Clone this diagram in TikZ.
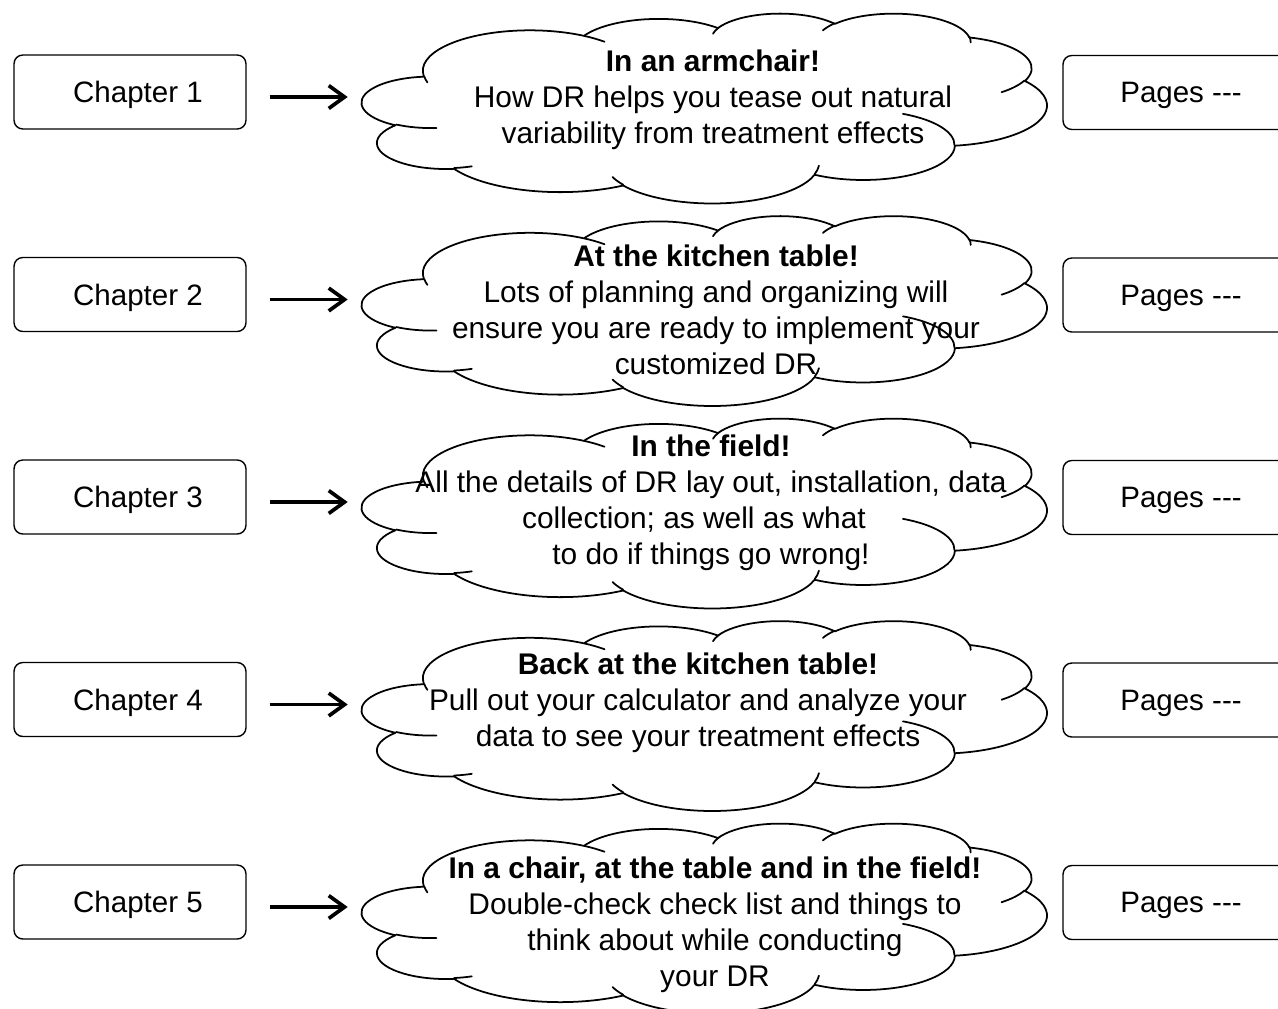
\documentclass[tikz,border=0pt]{standalone}
\usepackage{fontspec}
\setmainfont{Liberation Sans}
\usetikzlibrary{arrows.meta}
\tikzset{
  carc/.code n args={4}{%
    \pgfmathsetmacro\cA{atan2((#1)*sin(#3),(#2)*cos(#3))}%
    \pgfmathsetmacro\cB{atan2((#1)*sin((#3)+(#4)),(#2)*cos((#3)+(#4)))}%
    \pgfmathsetmacro\cB{(\cA)+mod((\cB)-(\cA)+720,360)}%
    \edef\cTmp{\noexpand\tikzset{x radius=#1,y radius=#2,start angle=\cA,end angle=\cB}}%
    \cTmp},
  cloudline/.style={line width=1pt, line join=round, line cap=round},
  chbox/.style={draw, line width=0.8pt, rounded corners=5pt, minimum width=4.64cm,
    minimum height=1.48cm, inner sep=0pt, text depth=0pt,
    font=\fontsize{16.8}{19.8}\selectfont},
  cloudtxt/.style={align=center, inner sep=0pt, anchor=north,
    font=\fontsize{17}{20.4}\selectfont},
  arr/.style={line width=2.1pt, -{Straight Barb[length=9pt,width=13pt]}},
  cloudbox/.style={minimum width=13.7cm, minimum height=3.8cm, inner sep=0pt}
}
\newcommand\chshift{\rule{0.32cm}{0pt}}
\newcommand\pgshift{\rule{0.08cm}{0pt}}
\newcommand\drawcloud[1]{%
\begin{scope}[shift={(362,#1)},x=0.031713cm,y=-0.0087963cm]
\draw[cloudline] (39,143.7)
  arc[carc={67.53}{91.90}{-190.48748}{123.78053}]
  arc[carc={53.33}{72.67}{-144.10238}{89.94523}]
  arc[carc={43.65}{59.45}{-145.80792}{99.72302}]
  arc[carc={48.57}{65.95}{-130.98607}{117.24173}]
  arc[carc={53.33}{72.73}{-78.70888}{109.02692}]
  arc[carc={67.75}{92.20}{-46.26725}{130.269}]
  arc[carc={57.85}{78.67}{0.62502}{114.03333}]
  arc[carc={67.52}{92.15}{22.4516}{115.17255}]
  arc[carc={77.20}{105.43}{66.24263}{75.71102}]
  arc[carc={43.60}{59.18}{-274.94208}{146.73557}]
  arc[carc={43.45}{59.45}{-246.8285}{152.51885}]
  -- cycle;
\draw[cloudline]
  (46.93,261.77) arc[carc={43.45}{59.45}{86.742}{26.4295}]
  (69.28,348.99) arc[carc={43.60}{59.18}{73.61047}{11.44747}]
  (164.78,390.90) arc[carc={67.52}{92.15}{137.62415}{14.0811}]
  (288.27,347.51) arc[carc={67.52}{92.15}{6.45327}{15.99835}]
  (341.29,229.54) arc[carc={57.85}{78.67}{-70.29235}{70.91737}]
  (417.98,153.54) arc[carc={53.33}{72.73}{30.31803}{27.7515}]
  (383.24,54.26) arc[carc={48.57}{65.95}{-13.74433}{14.8589}]
  (290.78,39.52) arc[carc={48.57}{65.95}{-149.18145}{18.19537}]
  (221.41,47.20) arc[carc={43.65}{59.45}{-163.49427}{17.68635}]
  (140.00,51.92) arc[carc={67.53}{91.90}{-66.70695}{12.31935}]
  (41.27,157.89) arc[carc={67.53}{91.90}{159.12255}{11.19667}];
\end{scope}}
\begin{document}
\begin{tikzpicture}[x=0.02cm,y=-0.02cm]
\useasboundingbox (0,0) rectangle (1278,1008);
% clouds
\drawcloud{13}
\drawcloud{215.5}
\drawcloud{418}
\drawcloud{620.5}
\drawcloud{823}
\node[cloudbox] (cl1) at (704.5,108) {};
\node[cloudbox] (cl2) at (704.5,310.5) {};
\node[cloudbox] (cl3) at (704.5,513) {};
\node[cloudbox] (cl4) at (704.5,715.5) {};
\node[cloudbox] (cl5) at (704.5,918) {};
% cloud texts
\node[cloudtxt] (tx1) at (713,49.5) {\textbf{In an armchair!}\\How DR helps you tease out natural\\variability from treatment effects};
\node[cloudtxt] (tx2) at (716,244.5) {\textbf{At the kitchen table!}\\Lots of planning and organizing will\\ensure you are ready to implement your\\customized DR};
\node[cloudtxt] (tx3) at (711,434.5) {\textbf{In the field!}\\All the details of DR lay out, installation, data\\collection; as well as what\rule{0.68cm}{0pt}\\to do if things go wrong!};
\node[cloudtxt] (tx4) at (698,652.5) {\textbf{Back at the kitchen table!}\\Pull out your calculator and analyze your\\data to see your treatment effects};
\node[cloudtxt] (tx5) at (715,856.5) {\textbf{In a chair, at the table and in the field!}\\Double-check check list and things to\\think about while conducting\\your DR};
% chapter boxes
\node[chbox] (ch1) at (130,92) {\chshift Chapter 1};
\node[chbox] (ch2) at (130,294.5) {\chshift Chapter 2};
\node[chbox] (ch3) at (130,497) {\chshift Chapter 3};
\node[chbox] (ch4) at (130,699.5) {\chshift Chapter 4};
\node[chbox] (ch5) at (130,902) {\chshift Chapter 5};
% pages boxes
\node[chbox] (pg1) at (1179,92.5) {\pgshift Pages -\kern0pt-\kern0pt-};
\node[chbox] (pg2) at (1179,295) {\pgshift Pages -\kern0pt-\kern0pt-};
\node[chbox] (pg3) at (1179,497.5) {\pgshift Pages -\kern0pt-\kern0pt-};
\node[chbox] (pg4) at (1179,700) {\pgshift Pages -\kern0pt-\kern0pt-};
\node[chbox] (pg5) at (1179,902.5) {\pgshift Pages -\kern0pt-\kern0pt-};
% arrows
\foreach \i in {1,...,5}{
  \draw[arr] ([shift={(23,5)}]ch\i.east) -- ([shift={(-14,-11)}]cl\i.west);
}
\end{tikzpicture}
\end{document}
